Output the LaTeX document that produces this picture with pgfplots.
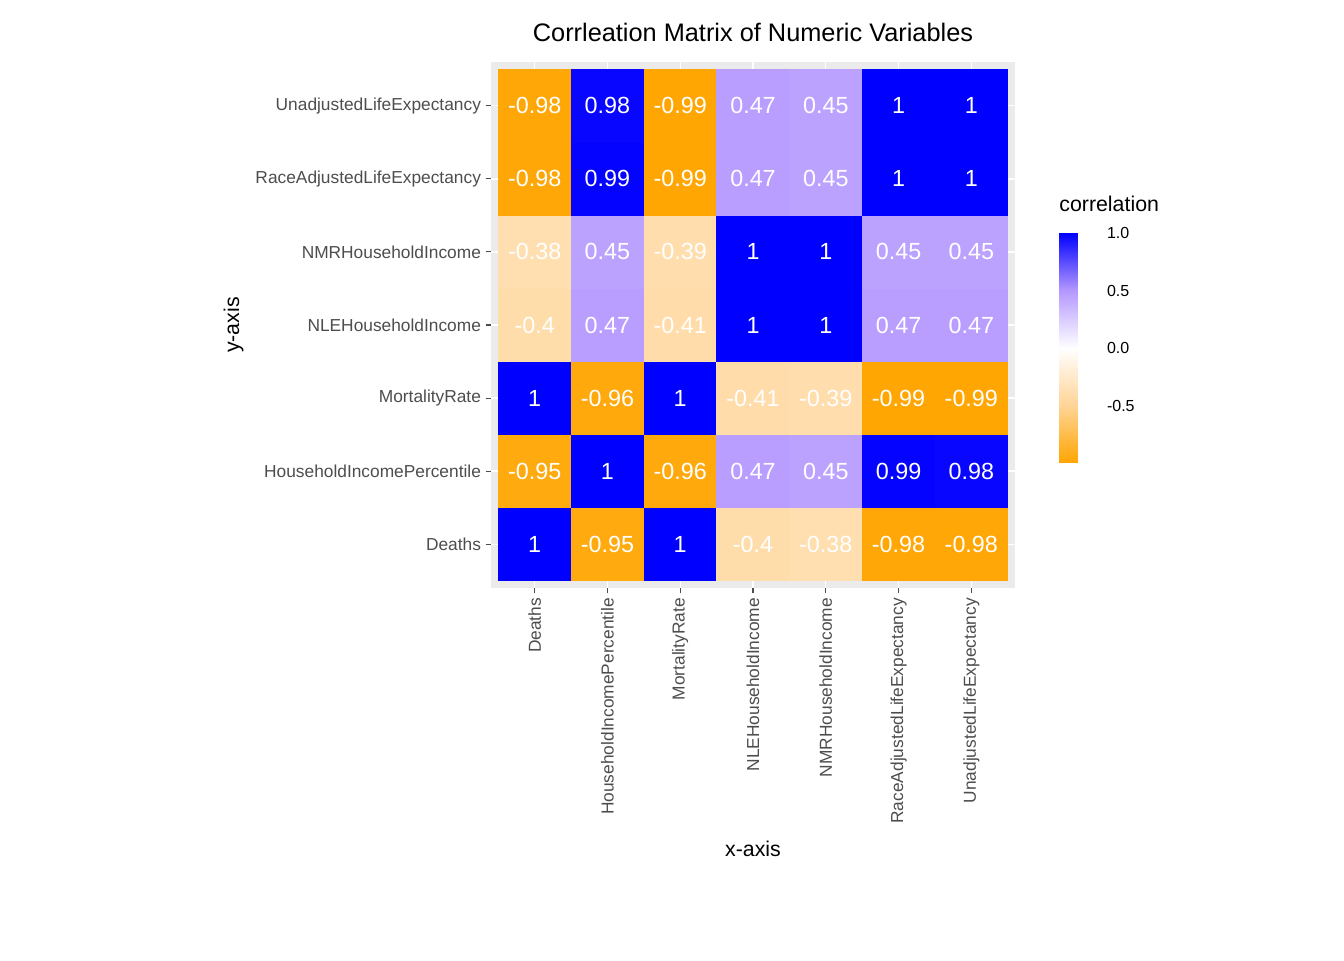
\documentclass[border=0pt]{standalone}
\usepackage{pgfplots}
\pgfplotsset{compat=1.18}
\usepackage{fontspec}
\setmainfont{Liberation Sans}
\definecolor{tickgrey}{RGB}{77,77,77}
\definecolor{panelgrey}{RGB}{235,235,235}
\begin{document}
\begin{tikzpicture}
\useasboundingbox (0,0) rectangle (1008pt,720pt);
\begin{axis}[
  at={(368.25pt,279pt)}, anchor=south west,
  scale only axis, width=393pt, height=394.5pt,
  xmin=-0.6, xmax=6.6, ymin=-0.6, ymax=6.6,
  xtick={0,...,6}, ytick={0,...,6},
  xtick pos=bottom, ytick pos=left,
  xticklabels={Deaths,HouseholdIncomePercentile,MortalityRate,NLEHouseholdIncome,NMRHouseholdIncome,RaceAdjustedLifeExpectancy,UnadjustedLifeExpectancy},
  yticklabels={Deaths,HouseholdIncomePercentile,MortalityRate,NLEHouseholdIncome,NMRHouseholdIncome,RaceAdjustedLifeExpectancy,UnadjustedLifeExpectancy},
  xticklabel style={rotate=90, anchor=east, font=\fontsize{13}{15}\selectfont, text=tickgrey},
  yticklabel style={font=\fontsize{13}{15}\selectfont, text=tickgrey},
  tick align=outside, tick style={tickgrey, line width=0.8pt}, major tick length=4pt,
  axis line style={draw=none},
  axis background/.style={fill=panelgrey},
  grid=major, major grid style={white, line width=1pt},
  xlabel={x-axis}, ylabel={y-axis},
  xlabel style={font=\fontsize{16}{18}\selectfont, yshift=-6pt},
  ylabel style={font=\fontsize{16}{18}\selectfont, yshift=2pt},
  title={Corrleation Matrix of Numeric Variables},
  title style={font=\fontsize{19}{21}\selectfont, yshift=6pt},
  colormap={ob}{rgb255(0)=(255,165,0); rgb255(0.5)=(255,212,150); rgb255(1)=(255,255,255); rgb255(1.5)=(180,152,255); rgb255(2)=(0,0,255)},
  point meta min=-1, point meta max=1,
  colorbar,
  colorbar style={at={(1.084,0.457)}, anchor=west, scale only axis, width=34.5pt, height=172pt,
    ytick={-0.5,0,0.5,1}, yticklabels={-0.5,0.0,0.5,1.0},
    yticklabel style={font=\fontsize{12}{14}\selectfont, xshift=-2pt},
    major tick length=0pt, axis line style={draw=none}, ymin=-0.99, ymax=1},
]
\addplot[matrix plot*, mesh/cols=7, point meta=explicit] table[meta=c] {
x y c
0 0 1
1 0 -0.95
2 0 1
3 0 -0.4
4 0 -0.38
5 0 -0.98
6 0 -0.98
0 1 -0.95
1 1 1
2 1 -0.96
3 1 0.47
4 1 0.45
5 1 0.99
6 1 0.98
0 2 1
1 2 -0.96
2 2 1
3 2 -0.41
4 2 -0.39
5 2 -0.99
6 2 -0.99
0 3 -0.4
1 3 0.47
2 3 -0.41
3 3 1
4 3 1
5 3 0.47
6 3 0.47
0 4 -0.38
1 4 0.45
2 4 -0.39
3 4 1
4 4 1
5 4 0.45
6 4 0.45
0 5 -0.98
1 5 0.99
2 5 -0.99
3 5 0.47
4 5 0.45
5 5 1
6 5 1
0 6 -0.98
1 6 0.98
2 6 -0.99
3 6 0.47
4 6 0.45
5 6 1
6 6 1
};
\addplot[only marks, mark=none, point meta=explicit symbolic,
  nodes near coords, nodes near coords align={center},
  every node near coord/.style={anchor=center, text=white, font=\fontsize{17.5}{19}\selectfont}]
 table[meta=c] {
x y c
0 0 1
1 0 -0.95
2 0 1
3 0 -0.4
4 0 -0.38
5 0 -0.98
6 0 -0.98
0 1 -0.95
1 1 1
2 1 -0.96
3 1 0.47
4 1 0.45
5 1 0.99
6 1 0.98
0 2 1
1 2 -0.96
2 2 1
3 2 -0.41
4 2 -0.39
5 2 -0.99
6 2 -0.99
0 3 -0.4
1 3 0.47
2 3 -0.41
3 3 1
4 3 1
5 3 0.47
6 3 0.47
0 4 -0.38
1 4 0.45
2 4 -0.39
3 4 1
4 4 1
5 4 0.45
6 4 0.45
0 5 -0.98
1 5 0.99
2 5 -0.99
3 5 0.47
4 5 0.45
5 5 1
6 5 1
0 6 -0.98
1 6 0.98
2 6 -0.99
3 6 0.47
4 6 0.45
5 6 1
6 6 1
};
\end{axis}
\node[anchor=west, font=\fontsize{16}{18}\selectfont] at (791pt,567pt) {correlation};
\end{tikzpicture}
\end{document}
